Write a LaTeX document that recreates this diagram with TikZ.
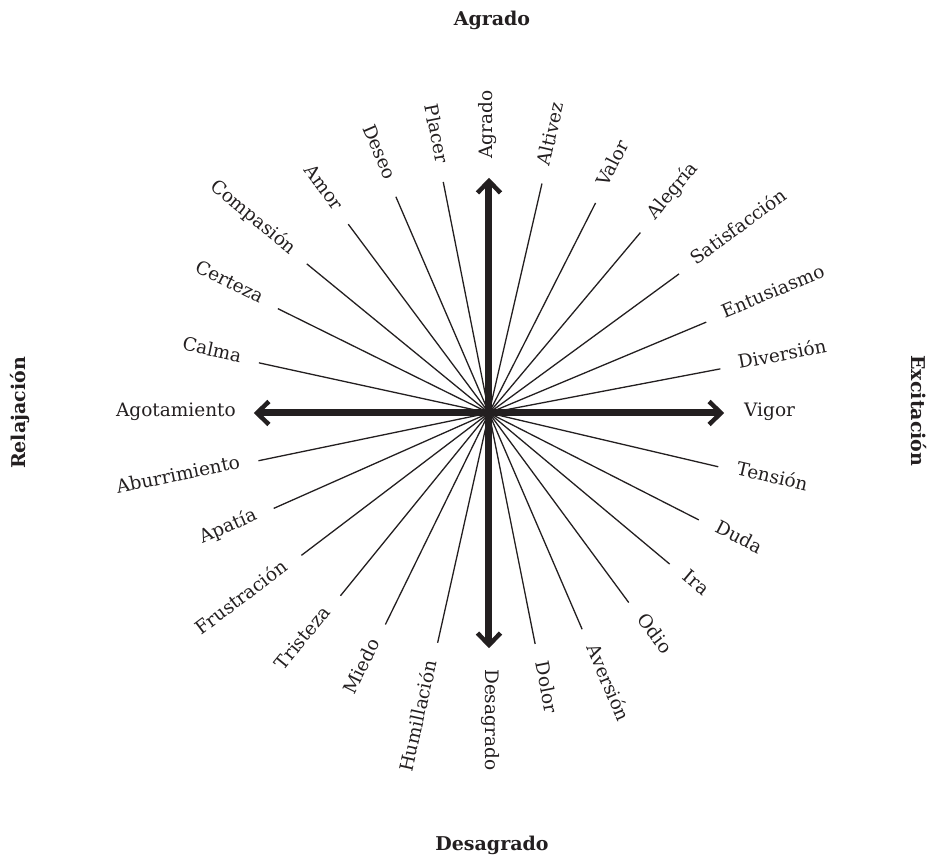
\documentclass[tikz,border=0pt]{standalone}
\usepackage{fontspec}
\setmainfont{DejaVu Serif}
\usetikzlibrary{calc}
\definecolor{ink}{HTML}{231F20}
\tikzset{
  spoke/.style={draw=ink, line width=1.3pt},
  shaft/.style={draw=ink, line width=7pt},
  barb/.style={draw=ink, line width=4.5pt, miter limit=4},
  emo/.style={text=ink, font=\fontsize{18.5}{21}\selectfont, inner sep=0pt,
              text height=0.73em, text depth=0pt},
  axistitle/.style={text=ink, font=\fontsize{19}{22}\selectfont\bfseries, inner sep=0pt}
}
\begin{document}
\begin{tikzpicture}[x=1pt, y=1pt]
  \useasboundingbox (-489,-445) rectangle (446,413);
  \coordinate (c) at (0,0);

  % thin spokes, labels reading outwards (right half)
  \foreach \a/\t [count=\i] in {10.8/Diversión, 22.7/Entusiasmo, 36.2/Satisfacción,
      50.0/Alegría, 63.1/Valor, 77.0/Altivez, 281.3/Dolor, 293.3/Aversión,
      306.4/Odio, 320.1/Ira, 333.0/Duda, 346.8/Tensión} {
    \coordinate (r\i) at (\a:235.5);
    \draw[spoke] (c) -- (r\i);
    \node[emo, anchor=west, rotate=\a] (rl\i) at (\a:254) {\t};
  }

  % thin spokes, labels reading towards the centre (left half)
  \foreach \a/\t [count=\i] in {101.2/Placer, 113.3/Deseo, 126.7/Amor,
      140.7/Compasión, 153.7/Certeza, 167.7/Calma, 191.7/Aburrimiento,
      203.9/Apatía, 217.2/Frustración, 230.9/Tristeza, 243.9/Miedo,
      257.4/Humillación} {
    \coordinate (l\i) at (\a:235.5);
    \draw[spoke] (c) -- (l\i);
    \node[emo, anchor=east, rotate=\a-180] (ll\i) at (\a:254) {\t};
  }

  % the two main axes
  \foreach \a/\n in {0/E, 90/N, 180/W, 270/S} {
    \coordinate (tip\n) at (\a:232);
    \coordinate (end\n) at (\a:229);
    \draw[shaft] (c) -- (end\n);
    \draw[barb] ($(tip\n)+(\a+136:16.6)$) -- (tip\n) -- ($(tip\n)+(\a-136:16.6)$);
  }
  \node[emo, anchor=west] (lE) at (0:255) {Vigor};
  \node[emo, anchor=west, rotate=90] (lN) at (90:254) {Agrado};
  \node[emo, anchor=east] (lW) at (180:253) {Agotamiento};
  \node[emo, anchor=west, rotate=270] (lS) at (270:256) {Desagrado};

  % axis titles
  \node[axistitle] (tN) at (3,393) {Agrado};
  \node[axistitle] (tS) at (3,-432) {Desagrado};
  \node[axistitle, rotate=90] (tW) at (-469,0) {Relajación};
  \node[axistitle, rotate=-90] (tE) at (430,2) {Excitación};
\end{tikzpicture}
\end{document}
